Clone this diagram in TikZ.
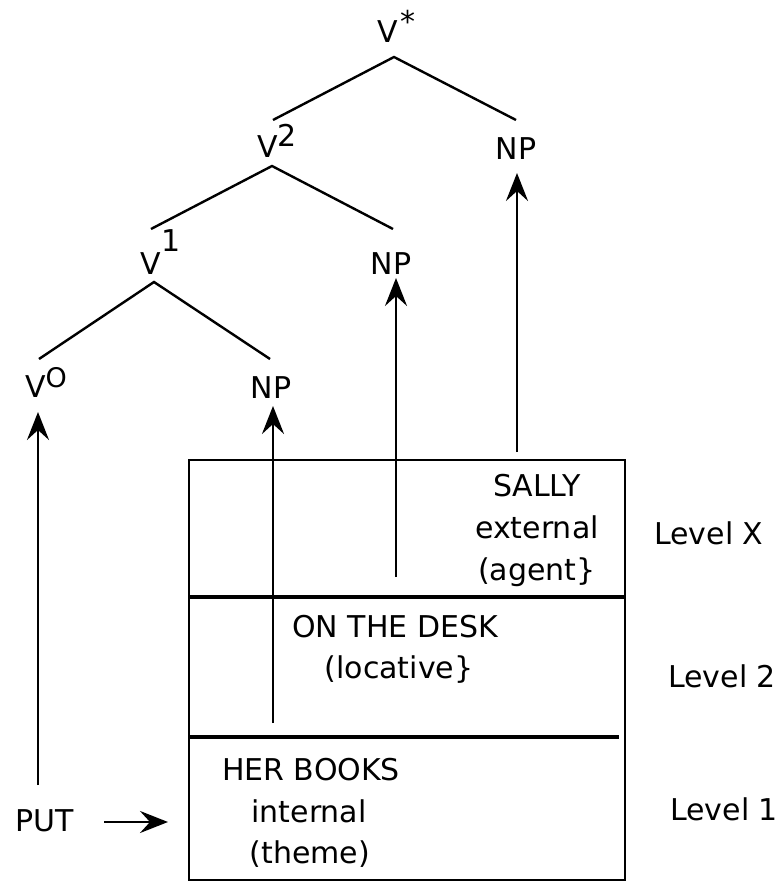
\documentclass[tikz,border=0pt]{standalone}
\usepackage{fontspec}
\setmainfont{DejaVu Sans}
\usetikzlibrary{arrows.meta}
\begin{document}
\begin{tikzpicture}[x=1pt,y=-1pt,
  lbl/.style={inner sep=0pt, anchor=base, font=\fontsize{30}{42}\selectfont},
  lblw/.style={lbl, anchor=base west},
  branch/.style={line width=2.4pt},
  arr/.style={line width=2.8pt, -{Stealth[length=28pt,width=22pt,inset=10pt]}},
  frame/.style={line width=2.8pt},
  divider/.style={line width=4pt}]
\useasboundingbox (0,0) rectangle (782,882);
% tree labels
\node[lblw] (vstar) at (377,43) {V\hspace{3pt}\raisebox{10pt}{*}};
\node[lblw] (v2) at (257,158) {V\raisebox{11pt}{2}};
\node[lblw] (v1) at (140,274) {V\hspace{1pt}\raisebox{22pt}{1}};
\node[lblw] (v0) at (25,397) {V\raisebox{10pt}{\fontsize{27}{30}\selectfont O}};
\node[lbl] (npc) at (516,160) {NP};
\node[lbl] (npb) at (391,275) {NP};
\node[lbl] (npa) at (271,398) {NP};
% branch points
\coordinate (vstar-b) at (394,57);
\coordinate (v2-t) at (273,120);
\coordinate (npc-t) at (516,120);
\coordinate (v2-b) at (272,166);
\coordinate (v1-t) at (151,229);
\coordinate (npb-t) at (393,229);
\coordinate (v1-b) at (154,282);
\coordinate (v0-t) at (39,359);
\coordinate (npa-t) at (270,359);
\draw[branch] (v2-t) -- (vstar-b) -- (npc-t);
\draw[branch] (v1-t) -- (v2-b) -- (npb-t);
\draw[branch] (v0-t) -- (v1-b) -- (npa-t);
% box
\draw[frame] (189,460) rectangle (625,880);
\draw[divider] (189,597) -- (625,597);
\draw[line width=3.5pt] (189,737) -- (619,737);
% box texts
\node[lbl] (sally) at (537,496) {SALLY};
\node[lbl] (ext) at (537,538) {external};
\node[lbl] (agent) at (537,580) {(agent\}};
\node[lbl] (desk) at (395,637) {ON THE DESK};
\node[lbl] (loc) at (399,678) {(locative\}};
\node[lbl] (books) at (311,780) {HER BOOKS};
\node[lbl] (int) at (309,822) {internal};
\node[lbl] (theme) at (310,863) {(theme)};
\node[lblw] (lx) at (654,544) {Level X};
\node[lblw] (l2) at (668,687) {Level 2};
\node[lblw] (l1) at (670,820) {Level 1};
\node[lblw] (put) at (15,831) {PUT};
% arrows
\coordinate (v0-in) at (38,412);
\coordinate (put-up) at (38,785);
\coordinate (npa-in) at (273,406);
\coordinate (books-up) at (273,723);
\coordinate (npb-in) at (396,278);
\coordinate (desk-up) at (396,577);
\coordinate (npc-in) at (517,173);
\coordinate (sally-up) at (517,452);
\coordinate (put-r) at (104,822);
\coordinate (box-l) at (168,822);
\draw[arr] (put-up) -- (v0-in);
\draw[arr] (books-up) -- (npa-in);
\draw[arr] (desk-up) -- (npb-in);
\draw[arr] (sally-up) -- (npc-in);
\draw[arr] (put-r) -- (box-l);
\end{tikzpicture}
\end{document}
